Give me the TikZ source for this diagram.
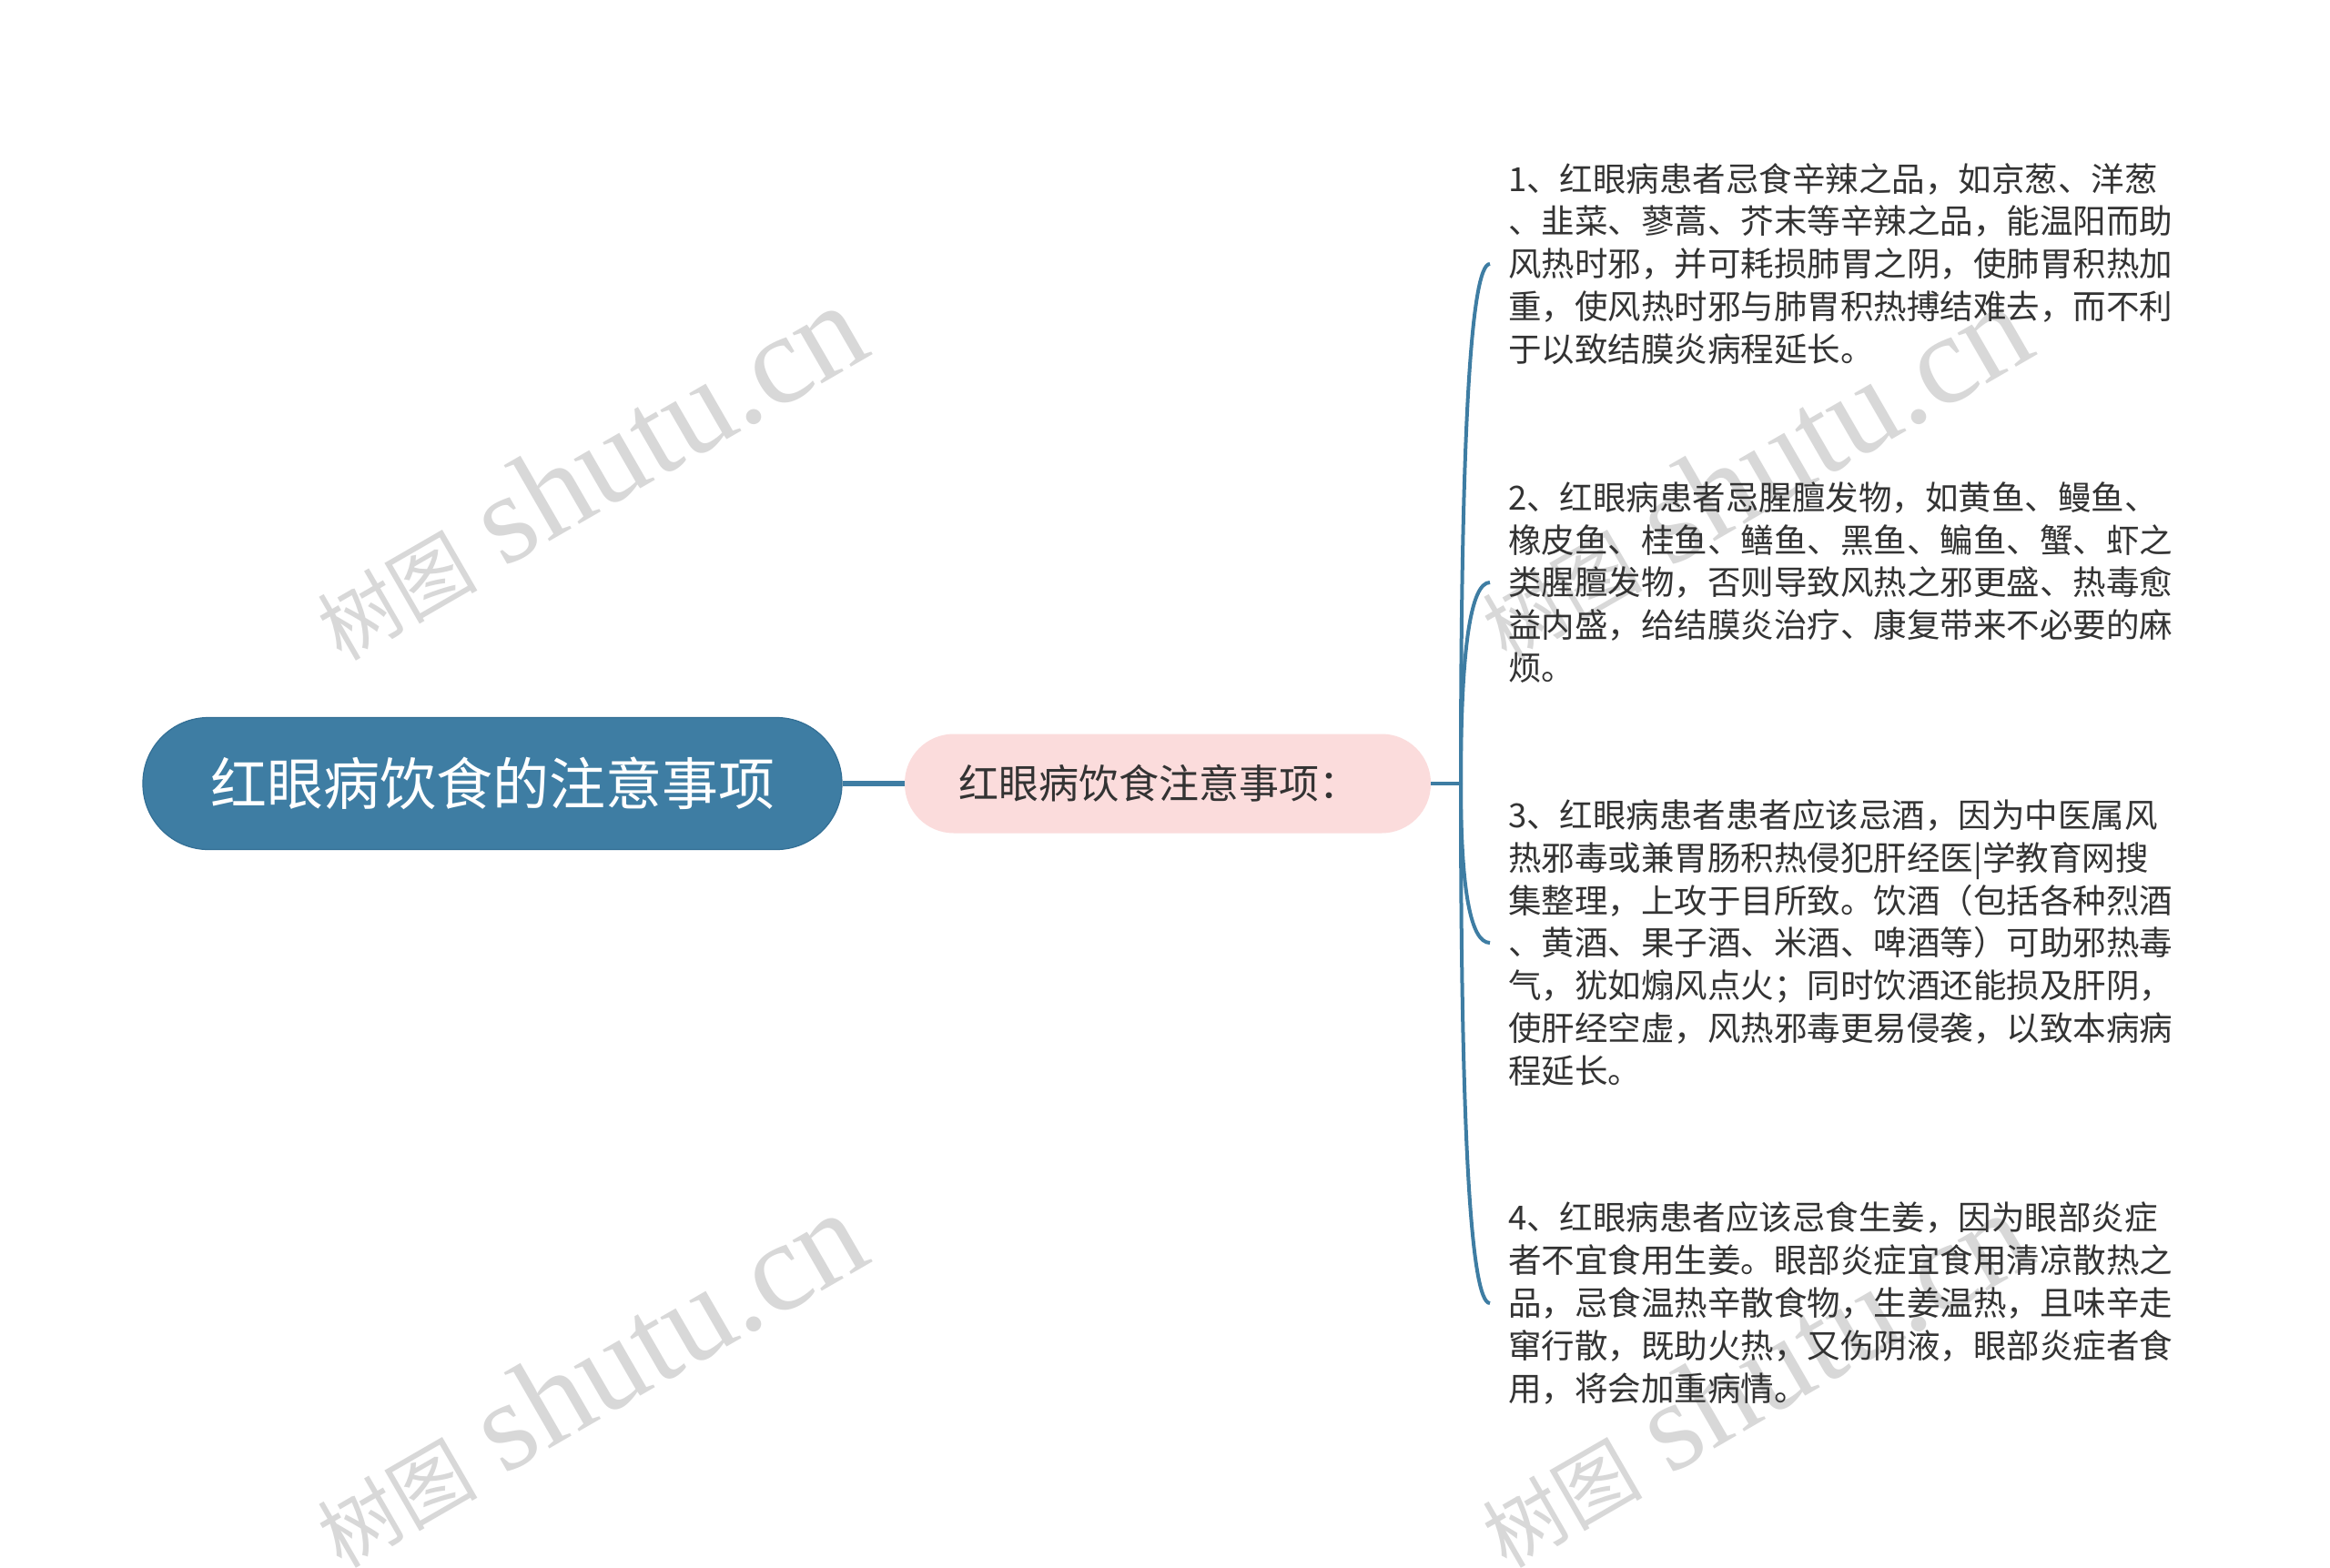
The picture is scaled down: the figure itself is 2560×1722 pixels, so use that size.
\documentclass[tikz,border=0pt]{standalone}
\usepackage{fontspec}
\setmainfont{Noto Sans CJK SC}
\newfontfamily\wmlatin{Liberation Serif}
\definecolor{mainblue}{HTML}{3E7DA3}
\definecolor{mainedge}{HTML}{336F95}
\definecolor{subpink}{HTML}{FBDCDC}
\definecolor{txtgray}{HTML}{333333}
\definecolor{wmgray}{HTML}{D8D8D8}
\begin{document}
\begin{tikzpicture}[x=1pt,y=-1pt,
  rootbox/.style={rectangle, rounded corners=72pt, fill=mainblue, draw=mainedge, line width=1.2pt,
    minimum width=768pt, minimum height=145pt, inner sep=0pt, text=white,
    font=\fontsize{62}{70}\selectfont},
  subbox/.style={rectangle, rounded corners=54pt, fill=subpink, draw=none,
    minimum width=578pt, minimum height=109pt, inner sep=0pt, text=txtgray,
    font=\fontsize{44}{50}\selectfont},
  leaftext/.style={anchor=west, inner xsep=20pt, inner ysep=0pt, align=left, text=txtgray,
    font=\fontsize{36.5}{46.9}\selectfont},
  conn/.style={draw=mainblue, line width=4pt},
  wm/.style={rotate=30, text=wmgray, inner sep=0pt}
]
\useasboundingbox (0,0) rectangle (2560,1722);
\fill[white] (0,0) rectangle (2560,1722);

% watermarks
\newcommand{\wmtext}{{\fontsize{88}{88}\selectfont 树图}\hspace{30pt}{\wmlatin\fontsize{140}{140}\selectfont shutu.cn}}
\node[wm] (wm1) at (646,519) {\wmtext};
\node[wm] (wm2) at (1926,519) {\wmtext};
\node[wm] (wm3) at (646,1516) {\wmtext};
\node[wm] (wm4) at (1926,1516) {\wmtext};

% nodes
\node[rootbox] (root) at (541,861) {红眼病饮食的注意事项};
\node[subbox] (sub) at (1283,861) {红眼病饮食注意事项：\hspace*{20pt}};
\coordinate (j) at (1605,861);

\node[leaftext] (l1) at (1637,290) {1、红眼病患者忌食辛辣之品，如京葱、洋葱\\
、韭菜、蓼蒿、芥末等辛辣之品，能温阳而助\\
风热时邪，并可耗损肺胃之阴，使肺胃积热加\\
重，使风热时邪与肺胃积热搏结难去，而不利\\
于以致结膜炎病程延长。};

\node[leaftext] (l2) at (1637,640) {2、红眼病患者忌腥膻发物，如黄鱼、鳗鱼、\\
橡皮鱼、桂鱼、鳝鱼、黑鱼、鳊鱼、蟹、虾之\\
类腥膻发物，否则导致风热之邪更盛、热毒愈\\
益内盛，给结膜炎治疗、康复带来不必要的麻\\
烦。};

\node[leaftext] (l3) at (1637,1036) {3、红眼病患者患者应该忌酒，因为中医属风\\
热邪毒或兼胃肠积热侵犯肝经医|学教育网搜\\
集整理，上攻于目所致。饮酒（包括各种烈酒\\
、黄酒、果子酒、米酒、啤酒等）可助邪热毒\\
气，犹如煽风点火；同时饮酒还能损及肝阴，\\
使肝经空虚，风热邪毒更易侵袭，以致本病病\\
程延长。};

\node[leaftext] (l4) at (1637,1432) {4、红眼病患者应该忌食生姜，因为眼部炎症\\
者不宜食用生姜。眼部炎症宜食用清凉散热之\\
品，忌食温热辛散食物，生姜温热，且味辛走\\
窜行散，既助火热，又伤阴液，眼部炎症者食\\
用，将会加重病情。};

% connectors
\draw[conn, line width=6pt] (root.east) -- (sub.west);
\draw[conn, line width=4.5pt] (sub.east) -- (j);
\draw[conn] (j) .. controls (1605,480.3) and (1615.7,290) .. (l1.west);
\draw[conn] (j) .. controls (1605,713.7) and (1615.7,640) .. (l2.west);
\draw[conn] (j) .. controls (1605,977.7) and (1615.7,1036) .. (l3.west);
\draw[conn] (j) .. controls (1605,1241.7) and (1615.7,1432) .. (l4.west);
\end{tikzpicture}
\end{document}
